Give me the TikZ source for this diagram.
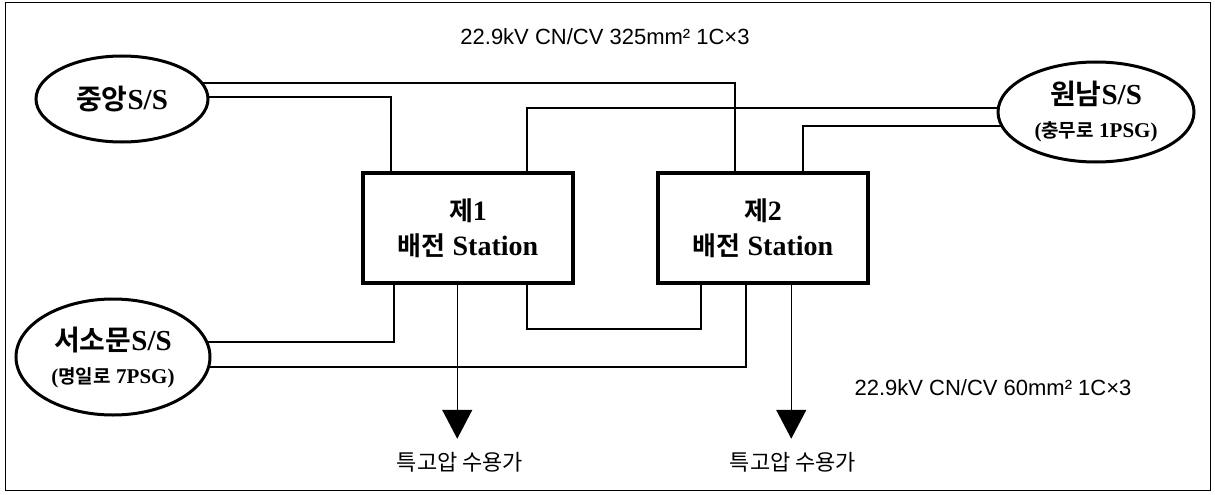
\documentclass[tikz,border=0pt]{standalone}
\usepackage{fontspec}
\setmainfont{Liberation Serif}
\setsansfont{Liberation Sans}
\newfontfamily\kr{Noto Sans CJK KR}[BoldFont={Noto Sans CJK KR Bold}]
\usetikzlibrary{shapes.geometric,arrows.meta,calc}
\pgfdeclarelayer{bg}
\pgfsetlayers{bg,main}
\newcommand{\KRB}[1]{{\kr\bfseries\fontsize{26}{30}\selectfont #1}}
\newcommand{\KRE}[1]{{\kr\bfseries\fontsize{28}{30}\selectfont #1}}
\newcommand{\LB}[1]{{\bfseries\fontsize{28}{30}\selectfont #1}}
\newcommand{\LE}[1]{{\bfseries\fontsize{29}{30}\selectfont #1}}
\newcommand{\KRs}[1]{{\kr\bfseries\fontsize{19}{20}\selectfont #1}}
\newcommand{\Ls}[1]{{\bfseries\fontsize{21}{20}\selectfont #1}}
\begin{document}
\begin{tikzpicture}[x=1pt,y=-1pt,
  conn/.style={line width=2pt},
  subst/.style={ellipse,draw,line width=3pt,fill=white,inner sep=0pt,align=center,
    font=\bfseries\fontsize{21}{33}\selectfont},
  stationbox/.style={rectangle,draw,line width=3.5pt,minimum width=210pt,minimum height=110pt,
    inner sep=0pt,align=center,fill=white,font=\bfseries\fontsize{28}{35}\selectfont},
  cable/.style={font=\sffamily\fontsize{22}{24}\selectfont},
  cust/.style={font=\kr\fontsize{22}{24}\selectfont},
  feed/.style={line width=1.5pt,-{Triangle[width=30pt,length=29pt]}}]
\useasboundingbox (0,0) rectangle (1215,495);
\draw[line width=1pt] (5,3) rectangle (1210,490);

\node[subst,minimum width=172pt,minimum height=86pt] (jungang) at (122,99) {\KRE{중앙}\LE{S/S}};
\node[subst,minimum width=196pt,minimum height=100pt] (wonnam) at (1096,112)
  {\KRE{원남}\LE{S/S}\\\Ls{(}\KRs{충무로} \Ls{1PSG)}};
\node[subst,minimum width=194pt,minimum height=116pt] (seomun) at (113,357)
  {\KRE{서소문}\LE{S/S}\\\Ls{(}\KRs{명일로} \Ls{7PSG)}};

\node[stationbox] (box1) at (468,228) {\KRB{제}\LB{1}\\\KRB{배전} \LB{Station}};
\node[stationbox] (box2) at (763,228) {\KRB{제}\LB{2}\\\KRB{배전} \LB{Station}};

\begin{pgfonlayer}{bg}
\draw[conn] ($(jungang.center)+(0,-16)$) -| ($(box2.north west)+(79,0)$);
\draw[conn] ($(jungang.center)+(0,-2)$) -| ($(box1.north west)+(30,0)$);
\draw[conn] ($(wonnam.center)+(0,-4)$) -| ($(box1.north west)+(166,0)$);
\draw[conn] ($(wonnam.center)+(0,14)$) -| ($(box2.north west)+(147,0)$);
\draw[conn] ($(seomun.center)+(0,-15)$) -| ($(box1.south west)+(33,0)$);
\draw[conn] ($(seomun.center)+(0,10)$) -| ($(box2.south west)+(90,0)$);
\draw[conn] ($(box1.south west)+(166,0)$) -- ++(0,44) -| ($(box2.south west)+(45,0)$);
\end{pgfonlayer}

\coordinate (tip1) at ($(box1.south west)+(96,154)$);
\coordinate (tip2) at ($(box2.south west)+(135,154)$);
\draw[feed] ($(box1.south west)+(96,0)$) -- (tip1);
\draw[feed] ($(box2.south west)+(135,0)$) -- (tip2);

\node[cust] (c1) at (460,462) {특고압 수용가};
\node[cust] (c2) at (793,462) {특고압 수용가};
\node[cable] (cab1) at (605,37) {22.9kV CN/CV 325mm² 1C×3};
\node[cable] (cab2) at (993,388) {22.9kV CN/CV 60mm² 1C×3};
\end{tikzpicture}
\end{document}
